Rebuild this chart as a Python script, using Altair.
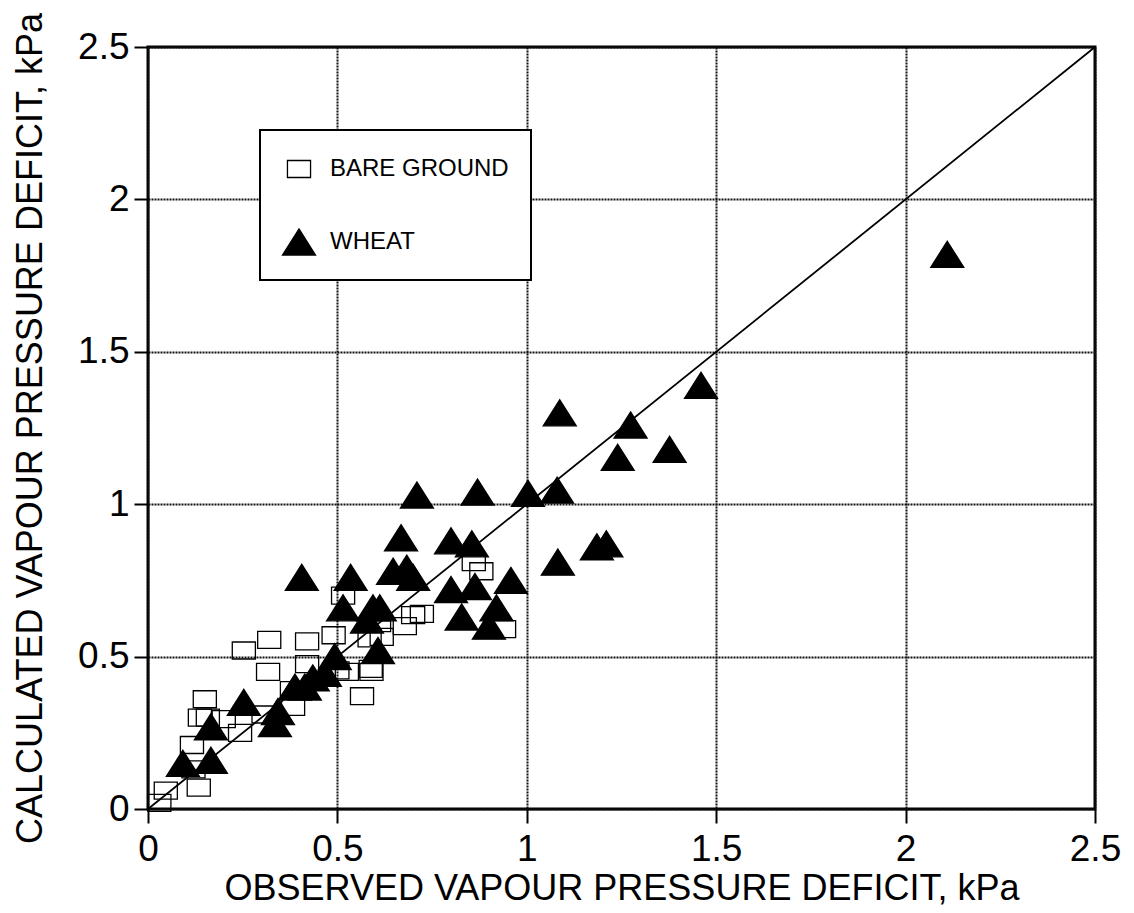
import altair as alt
import pandas as pd

# Bare ground: observed vs calculated vapour pressure deficit (kPa)
bare_x = [0.03, 0.047, 0.134, 0.12, 0.116, 0.137, 0.158, 0.15, 0.20, 0.243,
          0.253, 0.305, 0.317, 0.32, 0.38, 0.383, 0.42, 0.42, 0.49, 0.515,
          0.50, 0.525, 0.565, 0.585, 0.617, 0.588, 0.59, 0.61, 0.678, 0.70,
          0.723, 0.86, 0.88, 0.94]
bare_y = [0.02, 0.06, 0.07, 0.13, 0.21, 0.30, 0.30, 0.36, 0.295, 0.25,
          0.52, 0.31, 0.45, 0.555, 0.39, 0.335, 0.475, 0.55, 0.57, 0.70,
          0.455, 0.45, 0.37, 0.56, 0.565, 0.46, 0.45, 0.61, 0.60, 0.636,
          0.64, 0.81, 0.78, 0.59]

# Wheat: observed vs calculated vapour pressure deficit (kPa)
wheat_x = [2.11, 1.46, 1.087, 1.274, 1.377, 1.24, 0.71, 0.87, 1.003, 1.08,
           0.668, 0.80, 0.855, 1.185, 1.21, 1.082, 0.647, 0.683, 0.70, 0.535,
           0.406, 0.80, 0.863, 0.958, 0.92, 0.828, 0.90, 0.594, 0.612, 0.578,
           0.515, 0.607, 0.493, 0.467, 0.435, 0.388, 0.414, 0.343, 0.335, 0.253,
           0.166, 0.092, 0.166]
wheat_y = [1.82, 1.39, 1.30, 1.26, 1.18, 1.154, 1.03, 1.04, 1.036, 1.046,
           0.89, 0.88, 0.87, 0.86, 0.87, 0.81, 0.78, 0.79, 0.76, 0.76,
           0.76, 0.72, 0.73, 0.75, 0.66, 0.63, 0.60, 0.66, 0.66, 0.62,
           0.66, 0.52, 0.50, 0.445, 0.43, 0.40, 0.40, 0.32, 0.28, 0.35,
           0.27, 0.15, 0.16]

# 1:1 line
line_x = [0.0, 2.5]
line_y = [0.0, 2.5]

x_ticks = [0, 0.5, 1, 1.5, 2, 2.5]
y_ticks = [0, 0.5, 1, 1.5, 2, 2.5]
groups = ["BARE GROUND", "WHEAT"]

points = pd.DataFrame({
    "obs": bare_x + wheat_x,
    "calc": bare_y + wheat_y,
    "surface": [groups[0]] * len(bare_x) + [groups[1]] * len(wheat_x),
})
one_to_one = pd.DataFrame({"obs": line_x, "calc": line_y})

FONT = "Liberation Sans"

# open rectangle and solid triangle symbols
RECT = "M-0.7,-0.515L0.7,-0.515L0.7,0.515L-0.7,0.515Z"
TRI = "M0,-0.79L1,0.79L-1,0.79Z"

x_enc = alt.X(
    "obs:Q",
    scale=alt.Scale(domain=[0, 2.5], nice=False, zero=False),
    axis=alt.Axis(values=x_ticks, format="~g", labelFlush=False,
                  labelOverlap=False, labelPadding=8, titlePadding=4,
                  title="OBSERVED VAPOUR PRESSURE DEFICIT, kPa"),
)
y_enc = alt.Y(
    "calc:Q",
    scale=alt.Scale(domain=[0, 2.5], nice=False, zero=False),
    axis=alt.Axis(values=y_ticks, format="~g", labelFlush=False,
                  labelOverlap=False, labelPadding=5, titlePadding=28,
                  title="CALCULATED VAPOUR PRESSURE DEFICIT, kPa"),
)

legend = alt.Legend(
    title=None,
    orient="none",
    legendX=112,
    legendY=83,
    padding=21.5,
    rowPadding=43,
    symbolSize=1089,
    symbolStrokeWidth=1.3,
    symbolOpacity=1,
    labelFont=FONT,
    labelFontSize=24,
    labelColor="black",
    labelOffset=13.5,
    labelLimit=0,
    labelExpr="datum.label == 'WHEAT' ? '\u00a0\u00a0WHEAT' : datum.label",
    strokeColor="black",
    fillColor="white",
)

line = alt.Chart(one_to_one).mark_line(color="black", strokeWidth=1.8).encode(
    x=x_enc, y=y_enc
)

scatter = alt.Chart(points).mark_point(
    filled=True, strokeWidth=1.3, size=1089, opacity=1
).encode(
    x=x_enc,
    y=y_enc,
    shape=alt.Shape("surface:N", scale=alt.Scale(domain=groups, range=[RECT, TRI]),
                    legend=legend),
    fill=alt.Fill("surface:N", scale=alt.Scale(domain=groups, range=["transparent", "black"]),
                  legend=legend),
    stroke=alt.Stroke("surface:N", scale=alt.Scale(domain=groups, range=["black", "black"]),
                      legend=legend),
)

chart = (
    alt.layer(line, scatter)
    .properties(
        width=947,
        height=762,
        autosize=alt.AutoSizeParams(type="none"),
        padding={"left": 148, "top": 47, "right": 39, "bottom": 104},
        background="white",
    )
    .configure_view(stroke="black", strokeWidth=3)
    .configure_axis(
        labelFont=FONT,
        titleFont=FONT,
        labelFontSize=37,
        titleFontSize=36,
        titleFontWeight="normal",
        labelColor="black",
        titleColor="black",
        tickColor="black",
        tickSize=14,
        tickWidth=2,
        domain=False,
        gridColor="#111111",
        gridDash=[2, 1],
        gridWidth=2,
    )
    .configure_legend(strokeWidth=2)
)

chart.save("out.html", embed_options={"renderer": "svg", "actions": False})
